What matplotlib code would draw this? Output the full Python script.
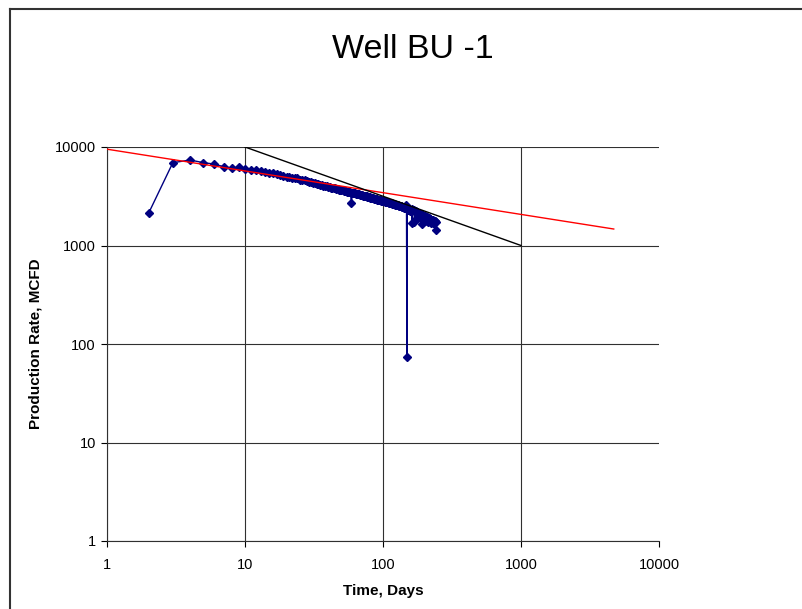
import matplotlib
matplotlib.use('Agg')
import matplotlib.pyplot as plt
from matplotlib.lines import Line2D

plt.rcParams['font.family'] = ['Liberation Sans', 'DejaVu Sans']

# measured production, one value per day (day 2 .. day 242)
days = list(range(2, 243))
rate = [
    2120, 6930, 7380, 6930, 6710, 6310, 6120, 6220, 6020,
    5850, 5780, 5700, 5560, 5480, 5420, 5380, 5180, 5080, 5010,
    4930, 4880, 4790, 4810, 4660, 4610, 4570, 4480, 4430, 4380,
    4340, 4290, 4260, 4180, 4160, 4110, 4060, 4030, 3980, 3950,
    3930, 3880, 3870, 3810, 3800, 3750, 3740, 3690, 3680, 3640,
    3630, 3590, 3580, 3550, 3530, 3510, 3490, 3470, 2680, 3450,
    3430, 3400, 3410, 3370, 3350, 3340, 3300, 3290, 3270, 3250,
    3240, 3200, 3210, 3180, 3160, 3150, 3130, 3110, 3100, 3080,
    3070, 3040, 3050, 3020, 3010, 2990, 2980, 2960, 2970, 2940,
    2930, 2920, 2900, 2910, 2880, 2870, 2860, 2850, 2860, 2830,
    2820, 2810, 2800, 2790, 2780, 2770, 2760, 2750, 2760, 2730,
    2720, 2710, 2700, 2690, 2680, 2670, 2660, 2650, 2660, 2630,
    2620, 2610, 2600, 2590, 2580, 2570, 2560, 2570, 2550, 2540,
    2530, 2520, 2510, 2500, 2510, 2490, 2480, 2470, 2460, 2470,
    2450, 2440, 2430, 2420, 2410, 2400, 2390, 2580, 73,
    2350, 2340, 2330, 2300, 2310, 2290, 2280, 2270, 2250, 2260, 2240,
    2330, 1700, 2310, 2300, 2290, 2270, 2280, 2250, 1720, 2240,
    2230, 2210, 2220, 1850, 2190, 2180, 2170, 1950, 2160, 2140,
    2130, 2110, 2120, 1900, 2100, 2090, 2070, 2080, 2060, 2050,
    1650, 2040, 2030, 2040, 2010, 2000, 1820, 1990, 1980, 2000,
    1970, 1960, 1780, 1950, 1940, 1930, 1960, 1920, 1910, 1930,
    1900, 1890, 1750, 1880, 1870, 1900, 1860, 1850, 1840, 1870,
    1830, 1820, 1700, 1810, 1800, 1830, 1790, 1780, 1680, 1800,
    1770, 1760, 1790, 1750, 1740, 1700, 1760, 1730, 1720, 1760, 1436, 1720,
]

# trend lines (end points)
red_t = [1, 4700]
red_q = [9500, 1470]
black_t = [10, 1000]
black_q = [10000, 1000]

ticks = [1, 10, 100, 1000, 10000]
tick_labels = ['1', '10', '100', '1000', '10000']

fig = plt.figure(figsize=(8.03, 6.09), dpi=100)
ax = fig.add_axes([107 / 803, 1 - 541 / 609, 552 / 803, 394 / 609])

ax.plot(days, rate, color='#000080', lw=1, marker='D', ms=4.3, zorder=3)
ax.plot(red_t, red_q, color='red', lw=1, zorder=4)
ax.plot(black_t, black_q, color='black', lw=1, zorder=4)

ax.set_xscale('log')
ax.set_yscale('log')
ax.set_xlim(1, 10000)
ax.set_ylim(1, 10000)
ax.set_xticks(ticks, tick_labels)
ax.set_yticks(ticks, tick_labels)
ax.minorticks_off()
ax.tick_params(direction='out', length=4, width=0.8, labelsize=10.5)
ax.tick_params(axis='x', pad=8)
ax.tick_params(axis='y', pad=4)
ax.grid(True, color='#303030', lw=0.8)
ax.xaxis.get_gridlines()[-1].set_visible(False)
ax.set_axisbelow(True)
for s in ['top', 'right']:
    ax.spines[s].set_visible(False)
for s in ['left', 'bottom']:
    ax.spines[s].set_color('#303030')

ax.set_xlabel('Time, Days', fontsize=11, fontweight='bold', labelpad=9)
ax.set_ylabel('Production Rate, MCFD', fontsize=11, fontweight='bold', labelpad=9)
fig.text(413 / 803, 1 - 50 / 609, 'Well BU -1', fontsize=24.5, ha='center', va='center')

# chart border (top and left only visible)
fig.add_artist(Line2D([10 / 803, 1], [1 - 9 / 609] * 2, color='#333333', lw=1.5))
fig.add_artist(Line2D([10 / 803] * 2, [0, 1 - 9 / 609], color='#333333', lw=1.5))

fig.savefig('out.png', dpi=100)
